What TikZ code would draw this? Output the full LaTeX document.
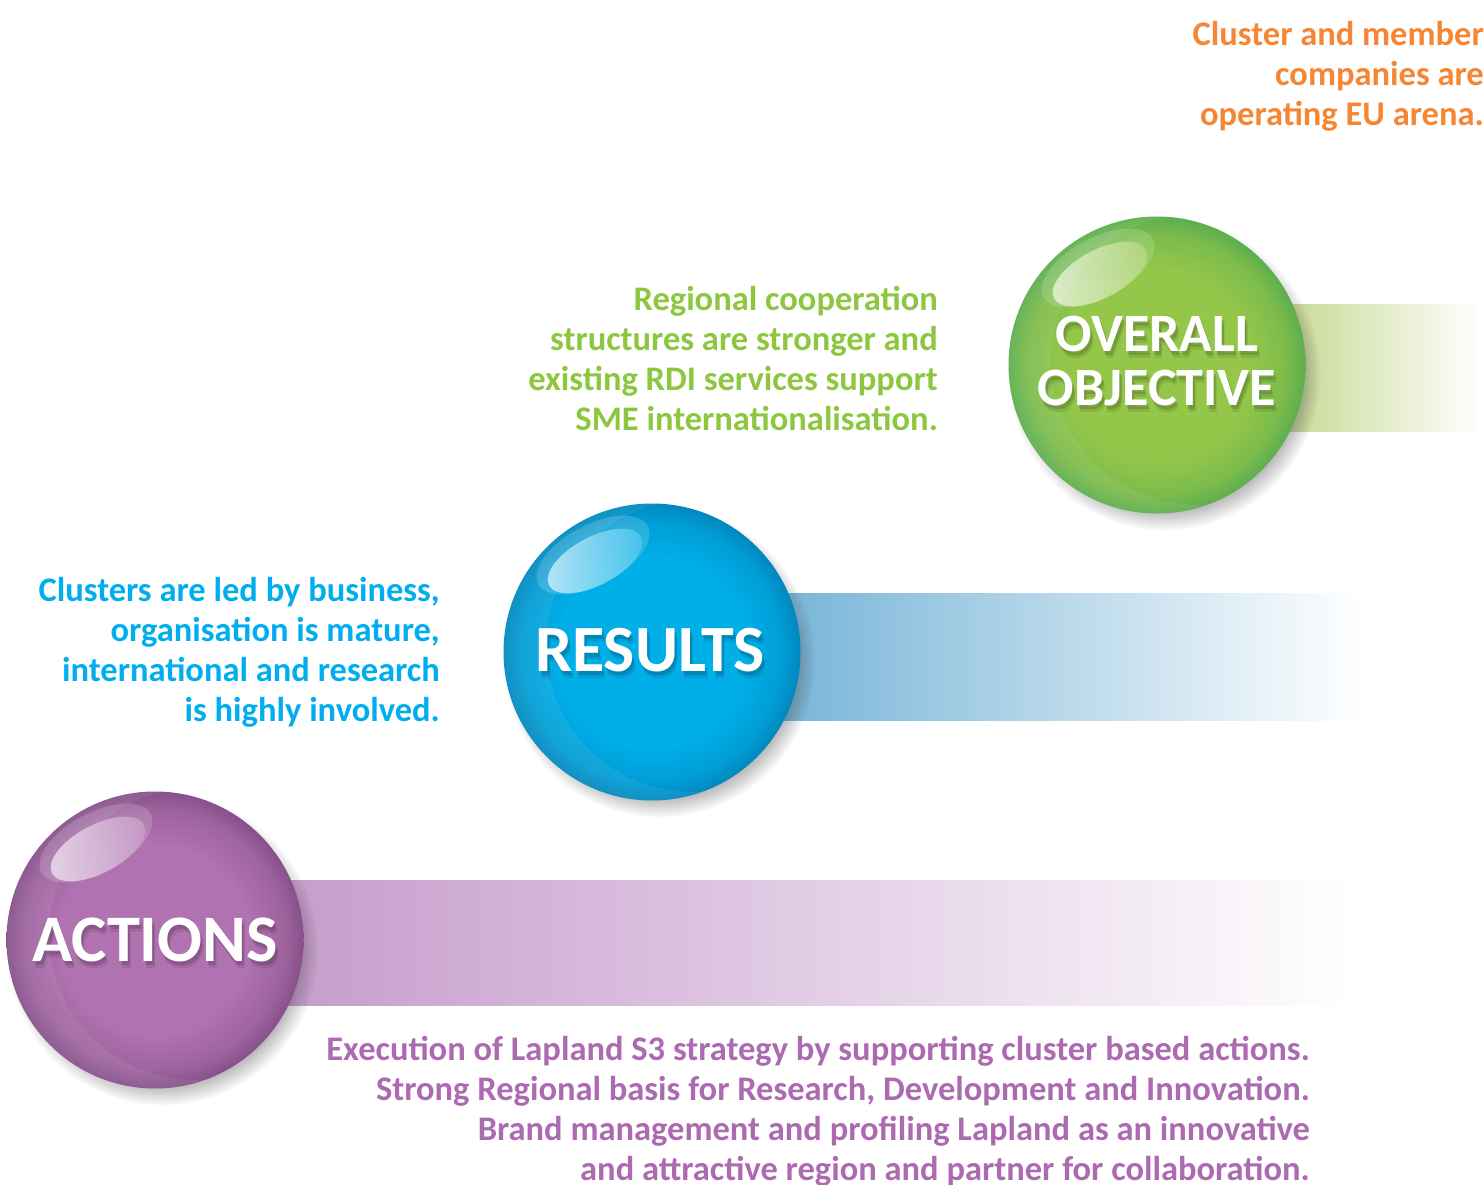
\documentclass[tikz,border=0pt]{standalone}
\usepackage{fontspec}
\setmainfont{Carlito}
\usetikzlibrary{shadows,fadings,calc}

% palette
\definecolor{txtorange}{RGB}{246,134,52}
\definecolor{txtgreen}{RGB}{141,198,63}
\definecolor{txtblue}{RGB}{0,174,239}
\definecolor{txtpurple}{RGB}{172,106,176}

\definecolor{gIn}{RGB}{148,198,74}
\definecolor{gOut}{RGB}{92,174,78}
\definecolor{bIn}{RGB}{0,174,232}
\definecolor{bOut}{RGB}{0,136,190}
\definecolor{pIn}{RGB}{176,114,176}
\definecolor{pOut}{RGB}{134,80,138}

\definecolor{gBar}{RGB}{198,216,146}
\definecolor{bBar}{RGB}{118,180,215}
\definecolor{pBar}{RGB}{198,156,204}

% sphere body: flat centre, darker rim
\pgfdeclareradialshading{greenball}{\pgfpoint{0bp}{0bp}}{color(0bp)=(gIn); color(16bp)=(gIn); color(22bp)=(gIn!55!gOut); color(25bp)=(gOut); color(50bp)=(gOut)}
\pgfdeclareradialshading{blueball}{\pgfpoint{0bp}{0bp}}{color(0bp)=(bIn); color(16bp)=(bIn); color(22bp)=(bIn!55!bOut); color(25bp)=(bOut); color(50bp)=(bOut)}
\pgfdeclareradialshading{purpleball}{\pgfpoint{0bp}{0bp}}{color(0bp)=(pIn); color(16bp)=(pIn); color(22bp)=(pIn!55!pOut); color(25bp)=(pOut); color(50bp)=(pOut)}

\tikzset{
  ball/.style={circle, inner sep=0pt, minimum size=297pt,
    circular drop shadow={shadow xshift=7pt, shadow yshift=-9pt,
      shadow scale=1.05, opacity=0.45, fill=black!70}},
  labeltext/.style={text=white, font=\bfseries, align=center, inner sep=0pt},
  labelshade/.style={text=black, font=\bfseries, align=center, inner sep=0pt},
  desc/.style={font=\bfseries\fontsize{34.5}{40}\selectfont, align=right,
    anchor=east, inner sep=0pt},
}

% white label with a soft shadow beneath it
\newcommand\glowlabel[4]{% name, position, font size, text
  \foreach \dx/\dy/\op in {2/4/0.14, 3/7/0.09}
    \node[labelshade, opacity=\op, font=\bfseries\fontsize{#3}{#3}\selectfont]
      at ($(#2)+(\dx,\dy)$) {#4};
  \node[labeltext, font=\bfseries\fontsize{#3}{#3}\selectfont] (#1) at (#2) {#4};
}

% glossy highlight and left-side sheen of a sphere
\newcommand\gloss[2]{% centre name, base colour
  \begin{scope}
    \clip (#1) circle[radius=148.5];
    \fill[white, opacity=0.07, even odd rule]
      (#1) circle[radius=148.5] ($(#1)+(40,-6)$) circle[radius=146];
  \end{scope}
  \begin{scope}[shift={($(#1)+(-59,-97)$)}, rotate=28]
    \fill[white, opacity=0.16] (0,0) ellipse[x radius=62, y radius=30];
  \end{scope}
  \begin{scope}[shift={($(#1)+(-57,-91)$)}, rotate=28]
    \shade[left color=white!88!#2, right color=white!30!#2, opacity=0.75]
      (0,0) ellipse[x radius=52, y radius=24];
  \end{scope}
}

\begin{document}
\begin{tikzpicture}[x=1pt, y=-1pt]
  \useasboundingbox (0,0) rectangle (1484,1185);

  % sphere centres
  \coordinate (cObj) at (1157,365);
  \coordinate (cRes) at (652,652);
  \coordinate (cAct) at (155,940);

  % fading bars behind the spheres
  \shade[left color=gBar, right color=white!97!gBar] (1280,304) rectangle (1475,431);
  \shade[left color=bBar, right color=white] (775,593) rectangle (1362,720);
  \shade[left color=pBar, right color=white] (280,880) rectangle (1352,1005);

  % spheres
  \node[ball, shading=greenball] (obj) at (cObj) {};
  \node[ball, shading=blueball] (res) at (cRes) {};
  \node[ball, shading=purpleball] (act) at (cAct) {};

  \gloss{cObj}{gIn}
  \gloss{cRes}{bIn}
  \gloss{cAct}{pIn}

  % sphere titles
  \glowlabel{objT}{1157,361}{54}{OVERALL\\OBJECTIVE}
  \glowlabel{resT}{650,650}{66}{RESULTS}
  \glowlabel{actT}{155,940}{66.5}{ACTIONS}

  % descriptions
  \node[desc, text=txtorange] (objGoal) at (1484,76)
    {Cluster and member\\companies are\\operating EU arena.};
  \node[desc, text=txtgreen] (objDesc) at (938,358)
    {Regional cooperation\\structures are stronger and\\existing RDI services support\\SME internationalisation.};
  \node[desc, text=txtblue] (resDesc) at (440,652)
    {Clusters are led by business,\\organisation is mature,\\international and research\\is highly involved.};
  \node[desc, text=txtpurple] (actDesc) at (1310,1111)
    {Execution of Lapland S3 strategy by supporting cluster based actions.\\Strong Regional basis for Research, Development and Innovation.\\Brand management and profiling Lapland as an innovative\\and attractive region and partner for collaboration.};
\end{tikzpicture}
\end{document}
